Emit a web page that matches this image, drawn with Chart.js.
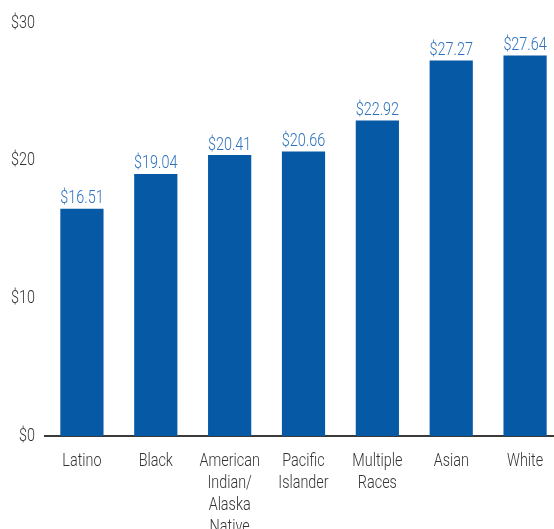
<!DOCTYPE html>
<html>
<head>
<meta charset="utf-8">
<script src="https://cdn.jsdelivr.net/npm/chart.js@4.4.0/dist/chart.umd.min.js"></script>
<style>
  html, body { margin: 0; padding: 0; background: #fff; overflow: hidden; }
  #wrap { width: 562px; height: 529px; position: relative; }
</style>
</head>
<body>
<div id="wrap"><canvas id="chart"></canvas></div>
<script>
// Chart data
const categories = [
    ['Latino'],
    ['Black'],
    ['American', 'Indian/', 'Alaska', 'Native'],
    ['Pacific', 'Islander'],
    ['Multiple', 'Races'],
    ['Asian'],
    ['White']
];
const wages = [16.51, 19.04, 20.41, 20.66, 22.92, 27.27, 27.64];
const yTicks = [0, 10, 20, 30];

const FONT = "Roboto, 'DejaVu Sans', sans-serif";
const SQUEEZE = 0.8; // reference font is a condensed face

// Draw text squeezed horizontally
const drawText = (ctx, text, x, y, align) => {
    ctx.save();
    ctx.translate(x, y);
    ctx.scale(SQUEEZE, 1);
    ctx.textAlign = align;
    ctx.fillText(text, 0, 0);
    ctx.restore();
};

// Axis labels and value labels, placed from the chart's own scales
const textLayer = {
    id: 'textLayer',
    afterDraw(chart) {
        const ctx = chart.ctx;
        const xs = chart.scales.x;
        const ys = chart.scales.y;
        ctx.save();

        // y tick labels
        ctx.font = `300 18px ${FONT}`;
        ctx.fillStyle = '#333333';
        ctx.textBaseline = 'middle';
        yTicks.forEach(v => {
            drawText(ctx, '$' + v, ys.right - 10, ys.getPixelForValue(v), 'right');
        });

        // x category labels
        categories.forEach((lines, i) => {
            const x = xs.getPixelForValue(i);
            lines.forEach((line, k) => {
                drawText(ctx, line, x, xs.top + 25 + k * 22, 'center');
            });
        });

        // value labels above the bars
        ctx.fillStyle = '#2d71bd';
        ctx.textBaseline = 'bottom';
        chart.getDatasetMeta(0).data.forEach((bar, i) => {
            drawText(ctx, '$' + wages[i].toFixed(2), bar.x, bar.y - 1, 'center');
        });

        ctx.restore();
    }
};

const ctx = document.getElementById('chart').getContext('2d');
new Chart(ctx, {
    type: 'bar',
    data: {
        labels: categories,
        datasets: [{
            data: wages,
            backgroundColor: '#0659a5',
            barPercentage: 0.585,
            categoryPercentage: 1
        }]
    },
    options: {
        responsive: true,
        maintainAspectRatio: false,
        animation: false,
        layout: { padding: { top: 23, left: 0, right: 0, bottom: 0 } },
        plugins: {
            legend: { display: false },
            tooltip: { enabled: false }
        },
        scales: {
            y: {
                min: 0,
                max: 30,
                afterBuildTicks: (scale) => {
                    scale.ticks = yTicks.map(v => ({ value: v }));
                },
                afterFit: (scale) => { scale.width = 45; },
                grid: { display: false },
                border: { display: false },
                ticks: { display: false }
            },
            x: {
                afterFit: (scale) => { scale.height = 93; },
                grid: { display: false },
                border: { display: true, color: '#3a3a3a', width: 2 },
                ticks: { display: false }
            }
        }
    },
    plugins: [textLayer]
});
</script>
</body>
</html>
